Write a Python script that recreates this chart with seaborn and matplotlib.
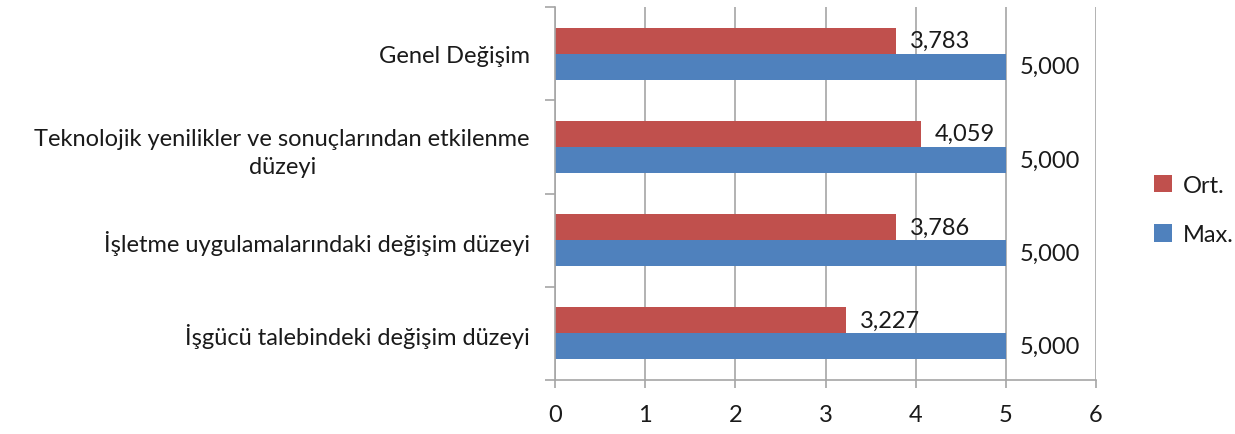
import matplotlib
matplotlib.use("Agg")
import matplotlib.pyplot as plt
import pandas as pd
import seaborn as sns

categories = [
    "Genel Değişim",
    "Teknolojik yenilikler ve sonuçlarından etkilenme\ndüzeyi",
    "İşletme uygulamalarındaki değişim düzeyi",
    "İşgücü talebindeki değişim düzeyi",
]
ort_values = [3.783, 4.059, 3.786, 3.227]
max_values = [5.000, 5.000, 5.000, 5.000]
series_names = ["Ort.", "Max."]
series_colors = ["#C0504D", "#4F81BD"]
x_ticks = [0, 1, 2, 3, 4, 5, 6]

df = pd.DataFrame({
    "kategori": categories * 2,
    "deger": ort_values + max_values,
    "seri": [series_names[0]] * len(categories) + [series_names[1]] * len(categories),
})

sns.set_theme(style="white")
plt.rcParams["font.family"] = ["Lato", "DejaVu Sans"]
text_color = "#1a1a1a"
line_color = "#A6A6A6"
fs = 17

fig = plt.figure(figsize=(12.35, 4.35), dpi=100)
ax = fig.add_axes([555 / 1235, 1 - 381 / 435, (1096 - 555) / 1235, (381 - 8) / 435])

sns.barplot(
    data=df, y="kategori", x="deger", hue="seri",
    order=categories, hue_order=series_names, palette=series_colors,
    orient="h", width=0.56, saturation=1, legend=False, linewidth=0, ax=ax,
)

for container in ax.containers:
    vals = [bar.get_width() for bar in container]
    ax.bar_label(
        container,
        labels=[f"{v:.3f}".replace(".", ",") for v in vals],
        padding=10, fontsize=fs, color=text_color,
    )

ax.set_xlim(0, 6)
ax.set_xticks(x_ticks)
ax.set_xticklabels([str(t) for t in x_ticks])
ax.set_ylim(len(categories) - 0.5, -0.5)
ax.set_xlabel("")
ax.set_ylabel("")

ax.grid(axis="x", color=line_color, linewidth=1.2)
ax.grid(axis="y", visible=False)
ax.set_axisbelow(True)

for side in ["top", "right"]:
    ax.spines[side].set_visible(False)
for side in ["left", "bottom"]:
    ax.spines[side].set_color(line_color)
    ax.spines[side].set_linewidth(1.2)

# category ticks sit on the group boundaries, labels at the group centres
ax.set_yticks([i - 0.5 for i in range(len(categories) + 1)], minor=True)
ax.tick_params(axis="y", which="minor", left=True, length=7, width=1.2, color=line_color)
ax.tick_params(axis="y", which="major", left=False, length=0, pad=18,
               labelsize=fs, labelcolor=text_color)
for lbl in ax.get_yticklabels():
    lbl.set_multialignment("center")
    lbl.set_linespacing(1.4)
ax.tick_params(axis="x", which="major", bottom=True, length=6, width=1.2,
               color=line_color, pad=11, labelsize=fs, labelcolor=text_color)

handles = [plt.Rectangle((0, 0), 1, 1, facecolor=c, edgecolor="none") for c in series_colors]
fig.legend(
    handles, series_names, loc="center left", bbox_to_anchor=(1133 / 1235, 1 - 211 / 435),
    frameon=False, fontsize=fs, labelcolor=text_color, handlelength=0.75,
    handleheight=0.75, handletextpad=0.45, labelspacing=1.2,
)

fig.savefig("out.png", dpi=100)
